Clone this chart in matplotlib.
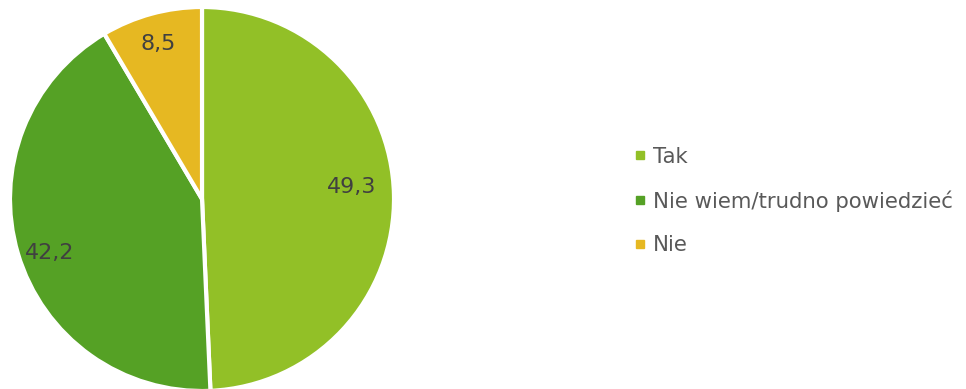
import matplotlib
matplotlib.use("Agg")
import numpy as np
import matplotlib.pyplot as plt
from matplotlib.lines import Line2D

categories = ["Tak", "Nie wiem/trudno powiedzieć", "Nie"]
values = [49.3, 42.2, 8.5]
value_labels = ["49,3", "42,2", "8,5"]
colors = ["#92C027", "#55A125", "#E6B822"]

plt.rcParams['font.family'] = ['DejaVu Sans']

W, H = 966, 389
fig = plt.figure(figsize=(W / 100, H / 100), dpi=100)
ax = fig.add_axes([0, 0, 1, 1])

cx, cy, R = 202, H - 199, 192
wedges, texts = ax.pie(
    values, colors=colors, startangle=90, counterclock=False,
    center=(cx, cy), radius=R,
    wedgeprops=dict(edgecolor='white', linewidth=3), frame=True)

# label placement (fraction of radius, angle offset in degrees)
label_dist = [0.78, 0.84, 0.84]
label_dang = [3.5, 3.0, 0.5]
for w, lab, d, da in zip(wedges, value_labels, label_dist, label_dang):
    ang = np.deg2rad((w.theta1 + w.theta2) / 2 + da)
    ax.text(cx + d * R * np.cos(ang), cy + d * R * np.sin(ang), lab,
            ha='center', va='center', fontsize=16, color='#404040')

ax.set_xlim(0, W)
ax.set_ylim(0, H)
ax.set_aspect('equal')
ax.axis('off')

handles = [Line2D([0], [0], marker='s', linestyle='none', markersize=5.8,
                  markerfacecolor=c, markeredgecolor=c) for c in colors]
leg = fig.legend(handles, categories, loc='center left',
                 bbox_to_anchor=(633 / W, 1 - 201 / H), frameon=False,
                 fontsize=15.3, labelcolor='#595959', handlelength=0.62,
                 handletextpad=0.32, labelspacing=1.1, borderpad=0,
                 borderaxespad=0)

fig.savefig('out.png', dpi=100)
